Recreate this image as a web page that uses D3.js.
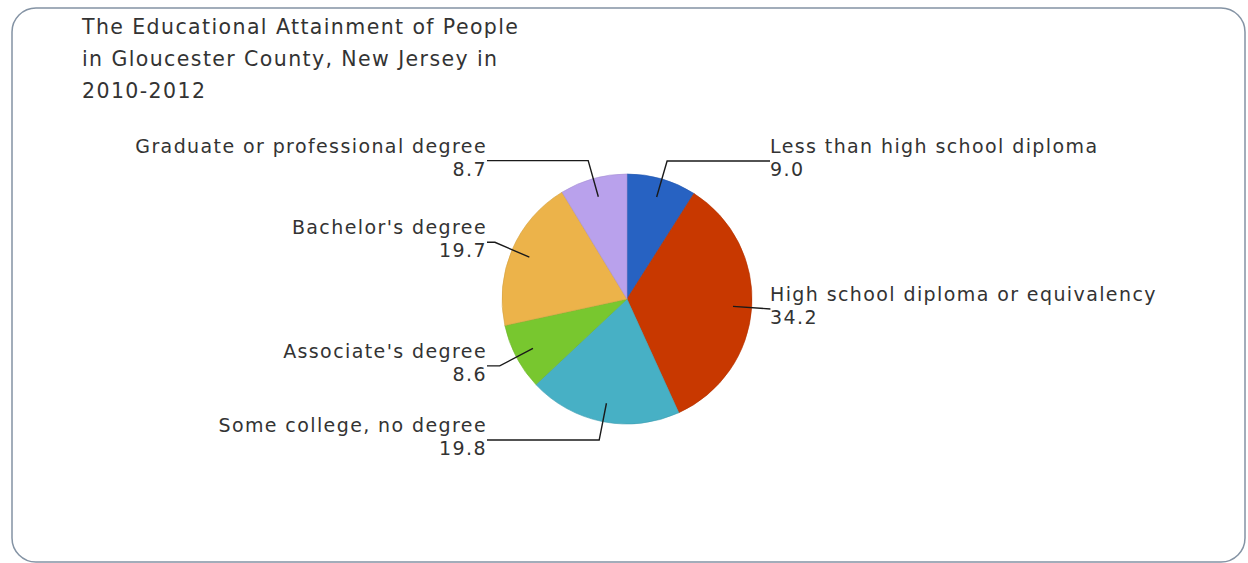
<!DOCTYPE html>
<html>
<head>
<meta charset="utf-8">
<script src="https://cdn.jsdelivr.net/npm/d3@7"></script>
<style>
  html, body { margin: 0; padding: 0; background: #fff; }
  svg { display: block; }
  text { font-family: "DejaVu Sans", sans-serif; fill: #333; }
</style>
</head>
<body>
<svg id="chart" width="1248" height="563"></svg>
<script>
// Educational attainment shares (percent), clockwise from 12 o'clock
const categories = [
  "Less than high school diploma",
  "High school diploma or equivalency",
  "Some college, no degree",
  "Associate's degree",
  "Bachelor's degree",
  "Graduate or professional degree"
];
const values = [9.0, 34.2, 19.8, 8.6, 19.7, 8.7];
const colors = ["#2762c2", "#c83800", "#47b0c5", "#78c72f", "#ecb34a", "#b9a1ec"];
const titleLines = [
  "The Educational Attainment of People",
  "in Gloucester County, New Jersey in",
  "2010-2012"
];

const W = 1248, H = 563;
const cx = 627, cy = 299, R = 125;

const svg = d3.select("#chart");

// rounded frame
svg.append("rect")
  .attr("x", 12).attr("y", 8)
  .attr("width", 1233).attr("height", 554)
  .attr("rx", 24).attr("ry", 24)
  .attr("fill", "#fff")
  .attr("stroke", "#8493a4")
  .attr("stroke-width", 1.5);

// title
svg.append("text")
  .attr("x", 82).attr("y", 34)
  .style("font-size", "20.5px")
  .style("letter-spacing", "1.4px")
  .selectAll("tspan")
  .data(titleLines)
  .join("tspan")
  .attr("x", 82)
  .attr("dy", (d, i) => i === 0 ? 0 : 32)
  .text(d => d);

const data = categories.map((c, i) => ({ name: c, value: values[i], color: colors[i] }));

const pie = d3.pie().value(d => d.value).sort(null);
const arcs = pie(data);

const arc = d3.arc().innerRadius(0).outerRadius(R);
const innerPt = d3.arc().innerRadius(R * 0.85).outerRadius(R * 0.85);
const elbowPt = d3.arc().innerRadius(R * 1.15).outerRadius(R * 1.15);

const g = svg.append("g").attr("transform", `translate(${cx},${cy})`);

g.selectAll("path.slice")
  .data(arcs)
  .join("path")
  .attr("class", "slice")
  .attr("d", arc)
  .attr("fill", d => d.data.color)
  .attr("stroke", d => d3.color(d.data.color).darker(0.3))
  .attr("stroke-width", 0.6);

const midAngle = d => (d.startAngle + d.endAngle) / 2;
const isRight = d => midAngle(d) < Math.PI;
const labelX = d => isRight(d) ? 143 : -140;

// leader lines
g.selectAll("polyline.leader")
  .data(arcs)
  .join("polyline")
  .attr("class", "leader")
  .attr("fill", "none")
  .attr("stroke", "#1a1a1a")
  .attr("stroke-width", 1.4)
  .attr("points", d => {
    const a = innerPt.centroid(d);
    const b = elbowPt.centroid(d);
    return [a, b, [labelX(d), b[1]]].map(p => p.join(",")).join(" ");
  });

// labels: category name above the leader, value below
const labels = g.selectAll("text.label")
  .data(arcs)
  .join("text")
  .attr("class", "label")
  .style("font-size", "19px")
  .style("letter-spacing", "1.4px")
  .attr("text-anchor", d => isRight(d) ? "start" : "end");

labels.append("tspan")
  .attr("x", d => labelX(d))
  .attr("y", d => elbowPt.centroid(d)[1] - 8)
  .text(d => d.data.name);

labels.append("tspan")
  .attr("x", d => labelX(d))
  .attr("y", d => elbowPt.centroid(d)[1] + 15)
  .text(d => d.data.value.toFixed(1));
</script>
</body>
</html>
